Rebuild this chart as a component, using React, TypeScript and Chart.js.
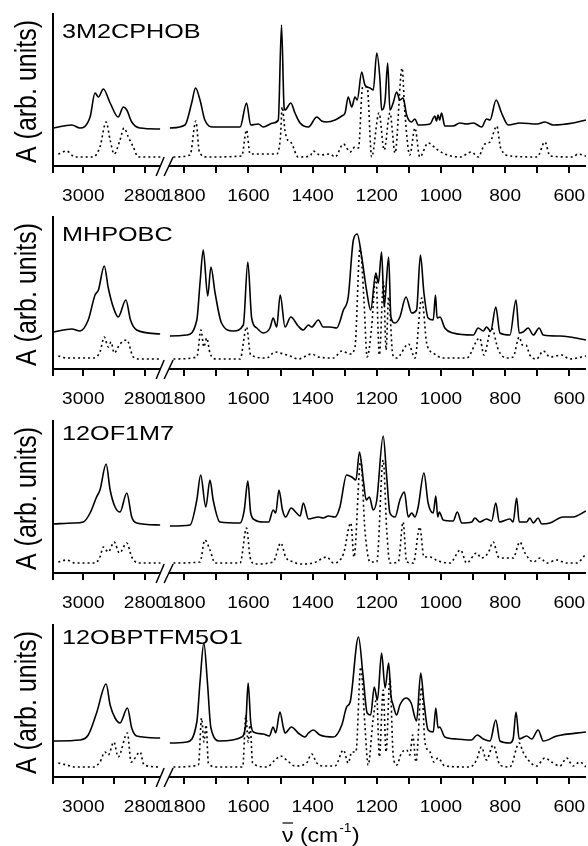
import React, { useEffect, useRef } from 'react';
import { Chart, registerables } from 'chart.js';

Chart.register(...registerables);

type Pt = [number, number]; // [wavenumber cm^-1, absorbance arb. units]

// ---------------- DATA ----------------
const panelTitles = ['3M2CPHOB', 'MHPOBC', '12OF1M7', '12OBPTFM5O1'];
const xTickValues = [3000, 2900, 2800, 1800, 1700, 1600, 1500, 1400, 1300, 1200, 1100, 1000, 900, 800, 700, 600];
const xTickLabels = [3000, 2800, 1800, 1600, 1400, 1200, 1000, 800, 600];
const yAxisTitle = 'A (arb. units)';

const solid1: Pt[] = [
  [3097, 38], [3037, 41], [3011, 38], [2978, 49], [2962, 73], [2951, 69], [2935, 77], [2913, 63], [2887, 49], [2870, 59], [2859, 56], [2843, 44], [2816, 38], [2751, 37],
  [1845, 38], [1798, 41], [1777, 63], [1765, 78], [1751, 66], [1736, 46], [1710, 39], [1626, 39], [1606, 63], [1593, 41], [1569, 42], [1554, 39], [1523, 43], [1507, 46], [1497, 141], [1489, 59], [1486, 56], [1468, 63], [1455, 53], [1439, 43], [1413, 39], [1387, 49], [1372, 45], [1356, 44], [1330, 46], [1309, 50], [1299, 53], [1289, 69], [1278, 59], [1268, 69], [1261, 66], [1247, 94], [1237, 81], [1221, 78], [1211, 76], [1200, 113], [1190, 86], [1185, 56], [1174, 66], [1166, 103], [1159, 56], [1149, 63], [1138, 74], [1128, 66], [1118, 68], [1107, 51], [1092, 44], [1081, 47], [1071, 41], [1034, 42], [1019, 50], [1014, 45], [1009, 51], [1004, 46], [998, 53], [988, 40], [962, 40], [941, 43], [920, 42], [899, 43], [873, 39], [858, 47], [847, 46], [828, 66], [811, 53], [790, 41], [754, 43], [700, 42], [676, 44], [650, 41], [588, 43], [548, 46],
];
const dotted1: Pt[] = [
  [3081, 12], [3054, 15], [3027, 9], [2968, 9], [2946, 19], [2926, 44], [2913, 26], [2900, 12], [2881, 26], [2868, 38], [2854, 29], [2838, 19], [2822, 9], [2750, 9],
  [1834, 9], [1782, 11], [1764, 45], [1753, 14], [1730, 9], [1621, 10], [1606, 36], [1595, 12], [1512, 12], [1500, 30], [1495, 59], [1486, 35], [1481, 28], [1466, 23], [1445, 9], [1408, 10], [1398, 15], [1377, 11], [1346, 12], [1330, 9], [1304, 22], [1283, 14], [1268, 19], [1257, 18], [1244, 79], [1230, 79], [1216, 9], [1193, 53], [1177, 16], [1159, 53], [1143, 13], [1121, 98], [1113, 56], [1097, 11], [1081, 38], [1066, 9], [1040, 23], [1014, 17], [988, 12], [941, 9], [905, 14], [884, 9], [863, 22], [847, 24], [826, 40], [814, 18], [783, 10], [700, 9], [676, 24], [660, 10], [588, 9], [573, 12], [548, 10],
];

const solid2: Pt[] = [
  [3097, 37], [3037, 40], [3011, 38], [2984, 49], [2962, 74], [2951, 79], [2932, 103], [2919, 81], [2903, 62], [2887, 52], [2862, 69], [2847, 49], [2827, 39], [2751, 35],
  [1845, 33], [1793, 34], [1761, 49], [1751, 86], [1741, 119], [1727, 73], [1717, 102], [1704, 76], [1684, 46], [1647, 38], [1616, 44], [1602, 107], [1590, 51], [1574, 41], [1554, 36], [1533, 41], [1523, 51], [1512, 42], [1501, 74], [1486, 42], [1468, 52], [1445, 43], [1429, 39], [1413, 44], [1403, 42], [1382, 49], [1367, 42], [1346, 42], [1325, 41], [1304, 59], [1289, 72], [1273, 129], [1261, 135], [1247, 112], [1232, 79], [1219, 59], [1203, 96], [1195, 86], [1185, 117], [1177, 62], [1163, 112], [1156, 52], [1143, 46], [1128, 52], [1109, 72], [1091, 56], [1076, 59], [1064, 114], [1053, 76], [1040, 51], [1024, 49], [1017, 74], [1012, 51], [1003, 52], [988, 41], [962, 36], [899, 34], [884, 41], [868, 38], [858, 42], [845, 38], [829, 62], [816, 36], [785, 34], [766, 69], [756, 36], [744, 37], [728, 41], [712, 34], [694, 41], [681, 34], [629, 33], [598, 32], [548, 29],
];
const dotted2: Pt[] = [
  [3081, 13], [3054, 11], [2968, 11], [2946, 17], [2932, 32], [2919, 22], [2910, 27], [2900, 16], [2881, 25], [2859, 29], [2838, 12], [2816, 10], [2750, 10],
  [1834, 10], [1761, 12], [1748, 39], [1739, 22], [1730, 31], [1720, 16], [1699, 10], [1626, 10], [1606, 42], [1593, 14], [1543, 11], [1517, 17], [1502, 16], [1471, 13], [1445, 10], [1403, 15], [1382, 12], [1335, 11], [1309, 18], [1283, 15], [1268, 22], [1252, 122], [1240, 69], [1230, 12], [1216, 42], [1203, 94], [1192, 14], [1179, 87], [1171, 19], [1163, 72], [1150, 14], [1138, 11], [1101, 25], [1081, 11], [1060, 71], [1044, 25], [1024, 16], [993, 11], [920, 11], [879, 31], [866, 14], [842, 41], [821, 19], [795, 11], [775, 12], [756, 32], [746, 24], [735, 24], [723, 14], [702, 10], [681, 18], [660, 12], [624, 14], [598, 10], [548, 13],
];

const solid3: Pt[] = [
  [3097, 49], [3032, 50], [3000, 51], [2978, 60], [2957, 76], [2946, 83], [2926, 109], [2913, 83], [2897, 66], [2881, 61], [2859, 80], [2843, 56], [2827, 50], [2751, 48],
  [1845, 47], [1782, 48], [1761, 73], [1749, 98], [1733, 66], [1720, 93], [1710, 73], [1689, 51], [1626, 50], [1613, 63], [1602, 92], [1593, 60], [1580, 53], [1554, 51], [1537, 51], [1523, 63], [1515, 60], [1505, 83], [1494, 63], [1484, 56], [1467, 65], [1450, 60], [1439, 57], [1429, 70], [1413, 54], [1382, 56], [1367, 55], [1351, 57], [1330, 56], [1315, 66], [1294, 98], [1278, 96], [1265, 93], [1254, 121], [1242, 93], [1233, 73], [1223, 76], [1211, 63], [1200, 73], [1180, 137], [1169, 96], [1159, 60], [1143, 56], [1128, 73], [1114, 81], [1102, 56], [1091, 60], [1081, 56], [1071, 66], [1053, 100], [1040, 70], [1024, 60], [1016, 77], [1010, 56], [1005, 61], [993, 53], [962, 52], [949, 61], [935, 50], [904, 51], [894, 55], [879, 51], [858, 54], [842, 52], [829, 70], [818, 51], [785, 54], [775, 51], [764, 75], [756, 51], [733, 51], [723, 55], [712, 50], [697, 55], [686, 49], [660, 50], [619, 56], [588, 56], [548, 62],
];
const dotted3: Pt[] = [
  [3081, 11], [3054, 13], [3027, 10], [2962, 10], [2946, 16], [2935, 26], [2919, 21], [2900, 31], [2883, 20], [2859, 30], [2843, 16], [2822, 10], [2750, 10],
  [1834, 10], [1751, 11], [1736, 33], [1720, 23], [1704, 10], [1626, 10], [1606, 45], [1595, 16], [1580, 9], [1523, 11], [1499, 30], [1484, 16], [1460, 11], [1439, 9], [1398, 10], [1356, 16], [1335, 10], [1304, 19], [1281, 50], [1271, 16], [1250, 113], [1237, 43], [1221, 11], [1200, 11], [1180, 113], [1169, 43], [1159, 10], [1133, 11], [1118, 51], [1107, 11], [1086, 10], [1066, 46], [1053, 16], [1034, 16], [1009, 12], [972, 10], [939, 23], [920, 10], [889, 20], [874, 15], [853, 20], [837, 31], [821, 16], [806, 15], [775, 15], [754, 31], [738, 20], [712, 11], [691, 15], [670, 10], [639, 13], [608, 10], [577, 10], [548, 19],
];

const solid4: Pt[] = [
  [3097, 36], [3011, 37], [2984, 42], [2957, 64], [2926, 93], [2913, 72], [2897, 59], [2881, 54], [2857, 69], [2843, 49], [2827, 41], [2751, 39],
  [1845, 34], [1793, 35], [1761, 55], [1751, 95], [1739, 134], [1728, 95], [1717, 49], [1689, 36], [1621, 40], [1608, 55], [1601, 94], [1593, 55], [1585, 45], [1554, 43], [1535, 41], [1523, 50], [1515, 44], [1502, 65], [1491, 49], [1486, 44], [1466, 50], [1445, 44], [1424, 40], [1413, 44], [1398, 47], [1377, 42], [1335, 40], [1309, 52], [1294, 70], [1283, 75], [1257, 140], [1243, 102], [1230, 64], [1219, 62], [1208, 90], [1198, 77], [1185, 124], [1174, 89], [1163, 114], [1156, 82], [1149, 72], [1138, 62], [1128, 72], [1109, 79], [1093, 74], [1076, 56], [1063, 104], [1053, 75], [1040, 47], [1024, 45], [1016, 69], [1009, 49], [1004, 50], [988, 40], [951, 38], [905, 37], [887, 42], [868, 38], [847, 36], [829, 57], [816, 36], [785, 34], [775, 38], [766, 65], [756, 38], [733, 41], [717, 38], [697, 47], [681, 36], [639, 41], [548, 45],
];
const dotted4: Pt[] = [
  [3081, 14], [3054, 12], [3027, 10], [2968, 10], [2946, 15], [2930, 25], [2919, 22], [2901, 35], [2887, 20], [2857, 44], [2845, 15], [2816, 25], [2803, 12], [2750, 10],
  [1834, 10], [1756, 12], [1746, 59], [1739, 35], [1732, 52], [1725, 14], [1699, 10], [1618, 10], [1608, 62], [1601, 35], [1595, 52], [1587, 14], [1543, 10], [1517, 17], [1500, 21], [1481, 17], [1455, 11], [1419, 14], [1403, 23], [1387, 14], [1367, 11], [1330, 11], [1304, 27], [1289, 14], [1278, 25], [1265, 25], [1250, 110], [1237, 52], [1227, 12], [1211, 59], [1200, 79], [1192, 20], [1180, 87], [1171, 25], [1159, 99], [1149, 22], [1138, 12], [1123, 24], [1107, 27], [1097, 22], [1088, 42], [1078, 15], [1060, 90], [1050, 35], [1034, 25], [1022, 15], [1009, 19], [988, 11], [910, 10], [889, 17], [874, 30], [858, 17], [837, 32], [816, 12], [785, 10], [756, 34], [744, 25], [728, 17], [702, 11], [676, 19], [655, 15], [629, 11], [608, 19], [588, 11], [567, 15], [548, 10],
];

const solidSeries = [solid1, solid2, solid3, solid4];
const dottedSeries = [dotted1, dotted2, dotted3, dotted4];

// ---------------- LAYOUT ----------------
const W = 588;
const PLOT_LEFT = 53;
const PLOT_RIGHT = 586;
const PLOT_H = 153;
const PAD_TOP = 13;
const canvasTops = [0, 203, 407, 611];
const canvasHeights = [203, 204, 204, 235];
const titleBaselines = [24.5, 25, 20, 20];
const FONT = '"Liberation Sans", Arial, Helvetica, sans-serif';

// broken axis: high-wavenumber segment (3100-2750) then low segment (1845-548)
const HIGH_END = 2750;
const LOW_START = 1845;
const toU = (nu: number) => (nu >= 2000 ? 30.3 + (3000 - nu) * 0.3085 : 131.3 + (1800 - nu) * 0.3208);
const U_MAX = PLOT_RIGHT - PLOT_LEFT;
const U_BREAK = (toU(HIGH_END) + toU(LOW_START)) / 2;

const buildData = (pts: Pt[]) => {
  const out: { x: number; y: number | null }[] = [];
  let prevHigh: boolean | null = null;
  for (const [nu, a] of pts) {
    const high = nu >= 2000;
    if (prevHigh === true && !high) out.push({ x: U_BREAK, y: null });
    out.push({ x: toU(nu), y: a });
    prevHigh = high;
  }
  return out;
};

const stretchText = (ctx: CanvasRenderingContext2D, text: string, x: number, y: number, sx: number) => {
  ctx.save();
  ctx.translate(x, y);
  ctx.scale(sx, 1);
  ctx.fillText(text, 0, 0);
  ctx.restore();
};

const makePlugin = (idx: number) => ({
  id: 'brokenAxes' + idx,
  afterDatasetsDraw(chart: any) {
    const { ctx, chartArea, scales } = chart;
    const xs = scales.x;
    const { left, right, top, bottom } = chartArea;
    ctx.save();
    ctx.strokeStyle = '#000';
    ctx.fillStyle = '#000';
    ctx.setLineDash([]);
    ctx.lineCap = 'butt';
    // y axis
    ctx.lineWidth = 2;
    ctx.beginPath();
    ctx.moveTo(left, top);
    ctx.lineTo(left, bottom + 7);
    ctx.stroke();
    // x axis with break
    const xc = xs.getPixelForValue(U_BREAK);
    ctx.beginPath();
    ctx.moveTo(left, bottom);
    ctx.lineTo(xc - 5, bottom);
    ctx.moveTo(xc + 4, bottom);
    ctx.lineTo(right, bottom);
    ctx.stroke();
    ctx.lineWidth = 1.5;
    ctx.beginPath();
    ctx.moveTo(xc - 9, bottom + 10);
    ctx.lineTo(xc - 1, bottom - 9);
    ctx.moveTo(xc - 1, bottom + 10);
    ctx.lineTo(xc + 8, bottom - 9);
    ctx.stroke();
    // ticks
    ctx.lineWidth = 2;
    for (const v of xTickValues) {
      const px = Math.round(xs.getPixelForValue(toU(v)));
      ctx.beginPath();
      ctx.moveTo(px, bottom);
      ctx.lineTo(px, bottom + 7);
      ctx.stroke();
    }
    // tick labels
    ctx.font = '17px ' + FONT;
    ctx.textAlign = 'center';
    ctx.textBaseline = 'alphabetic';
    for (const v of xTickLabels) {
      const px = xs.getPixelForValue(toU(v));
      stretchText(ctx, String(v), px, bottom + 35, 1.12);
    }
    // panel title
    ctx.font = '21px ' + FONT;
    ctx.textAlign = 'left';
    stretchText(ctx, panelTitles[idx], 62, top + titleBaselines[idx], 1.2);
    // y title (rotated)
    ctx.save();
    ctx.translate(36, (top + bottom) / 2 + 2);
    ctx.scale(1.15, 1);
    ctx.rotate(-Math.PI / 2);
    ctx.font = '25px ' + FONT;
    ctx.textAlign = 'center';
    ctx.fillText(yAxisTitle, 0, 0);
    ctx.restore();
    // x title on last panel
    if (idx === panelTitles.length - 1) {
      const sx = 1.15;
      const base = bottom + 65;
      let x = 282;
      ctx.textAlign = 'left';
      ctx.font = '20px ' + FONT;
      const wNu = ctx.measureText('\u03BD').width * sx;
      stretchText(ctx, '\u03BD', x, base, sx);
      ctx.lineWidth = 1.2;
      ctx.beginPath();
      ctx.moveTo(x + 0.5, base - 19);
      ctx.lineTo(x + wNu - 0.5, base - 19);
      ctx.stroke();
      x += wNu;
      stretchText(ctx, ' (cm', x, base, sx);
      x += ctx.measureText(' (cm').width * sx;
      ctx.font = '12px ' + FONT;
      stretchText(ctx, '-1', x + 1, base - 10, sx);
      x += ctx.measureText('-1').width * sx + 1.5;
      ctx.font = '20px ' + FONT;
      stretchText(ctx, ')', x, base, sx);
    }
    ctx.restore();
  },
});

function Panel({ idx }: { idx: number }) {
  const ref = useRef<HTMLCanvasElement>(null);
  useEffect(() => {
    const canvas = ref.current;
    if (!canvas) return;
    const h = canvasHeights[idx];
    const chart = new Chart(canvas, {
      type: 'line',
      data: {
        datasets: [
          {
            data: buildData(solidSeries[idx]),
            borderColor: '#000',
            borderWidth: 1.6,
            pointRadius: 0,
            fill: false,
            cubicInterpolationMode: 'monotone',
            spanGaps: false,
          },
          {
            data: buildData(dottedSeries[idx]),
            borderColor: '#000',
            borderWidth: 1.6,
            borderDash: [2, 3],
            pointRadius: 0,
            fill: false,
            cubicInterpolationMode: 'monotone',
            spanGaps: false,
          },
        ],
      } as any,
      options: {
        animation: false,
        responsive: false,
        maintainAspectRatio: false,
        layout: { padding: { left: PLOT_LEFT, right: W - PLOT_RIGHT, top: PAD_TOP, bottom: h - PAD_TOP - PLOT_H } },
        scales: {
          x: { type: 'linear', display: false, min: 0, max: U_MAX },
          y: { type: 'linear', display: false, min: 0, max: PLOT_H },
        },
        plugins: { legend: { display: false }, tooltip: { enabled: false }, title: { display: false } },
        events: [],
      } as any,
      plugins: [makePlugin(idx)],
    });
    return () => chart.destroy();
  }, [idx]);
  return (
    <canvas
      ref={ref}
      width={W}
      height={canvasHeights[idx]}
      style={{ position: 'absolute', left: 0, top: canvasTops[idx], width: W, height: canvasHeights[idx], display: 'block' }}
    />
  );
}

export default function App() {
  return (
    <div style={{ position: 'absolute', left: 0, top: 0, width: W, height: 846, background: '#fff', overflow: 'hidden' }}>
      {panelTitles.map((_, i) => (
        <Panel key={i} idx={i} />
      ))}
    </div>
  );
}
